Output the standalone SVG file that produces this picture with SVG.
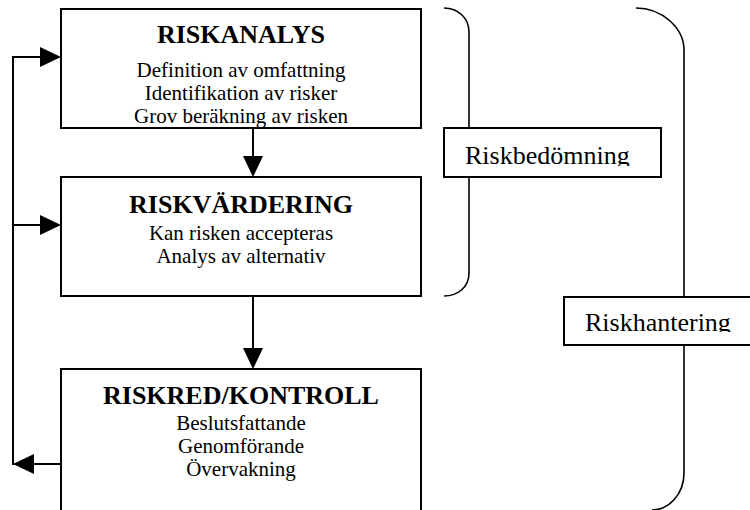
<svg xmlns="http://www.w3.org/2000/svg" width="750" height="510" viewBox="0 0 750 510">
  <style>
    .box { fill: #fff; stroke: #000; stroke-width: 2; }
    .line { fill: none; stroke: #000; stroke-width: 2; }
    .brace { fill: none; stroke: #000; stroke-width: 1.6; }
    .head { fill: #000; stroke: none; }
    text { font-family: "Liberation Serif", "Times New Roman", serif; fill: #000; }
    .title { font-size: 26px; font-weight: bold; text-anchor: middle; }
    .sub { font-size: 21px; text-anchor: middle; }
    .label { font-size: 26px; }
  </style>
  <defs>
    <clipPath id="clip-analys"><rect x="62" y="10" width="358" height="117"/></clipPath>
    <clipPath id="clip-bedomning"><rect x="445" y="129" width="215" height="37"/></clipPath>
    <clipPath id="clip-hantering"><rect x="565" y="298" width="185" height="34"/></clipPath>
  </defs>
  <rect width="750" height="510" fill="#fff"/>

  <!-- braces -->
  <g id="brace-bedomning">
    <path class="brace" d="M444,8 C458,8 469,18 469,32 V273 C469,287 458,296 444,296"/>
  </g>
  <g id="brace-hantering">
    <path class="brace" d="M636,8 C662,8 684,28 684,50 V473 C684,495 668,510 652,510"/>
  </g>

  <!-- connectors -->
  <g id="connectors">
    <path class="line" d="M253,128 V158"/>
    <polygon class="head" points="243,156 263,156 253,177"/>
    <path class="line" d="M253,296 V350"/>
    <polygon class="head" points="243,348 263,348 253,369"/>
    <path class="line" d="M61,464 H13 V57 H42"/>
    <polygon class="head" points="40,47 40,67 61,57"/>
    <path class="line" d="M13,225 H42"/>
    <polygon class="head" points="40,215 40,235 61,225"/>
    <polygon class="head" points="34,454 34,474 13,464"/>
  </g>

  <!-- process steps -->
  <g id="riskanalys">
    <rect class="box" x="61" y="9" width="360" height="119"/>
    <g clip-path="url(#clip-analys)">
      <text class="title" x="241" y="43">RISKANALYS</text>
      <text class="sub" x="241" y="77">Definition av omfattning</text>
      <text class="sub" x="241" y="100">Identifikation av risker</text>
      <text class="sub" x="241" y="123">Grov beräkning av risken</text>
    </g>
  </g>
  <g id="riskvardering">
    <rect class="box" x="61" y="177" width="360" height="119"/>
    <text class="title" x="241" y="213">RISKVÄRDERING</text>
    <text class="sub" x="241" y="240">Kan risken accepteras</text>
    <text class="sub" x="241" y="263">Analys av alternativ</text>
  </g>
  <g id="riskred-kontroll">
    <rect class="box" x="61" y="369" width="360" height="160"/>
    <text class="title" x="241" y="404">RISKRED/KONTROLL</text>
    <text class="sub" x="241" y="430">Beslutsfattande</text>
    <text class="sub" x="241" y="453">Genomförande</text>
    <text class="sub" x="241" y="476">Övervakning</text>
  </g>

  <!-- brace labels -->
  <g id="riskbedomning">
    <rect class="box" x="444" y="128" width="217" height="49"/>
    <g clip-path="url(#clip-bedomning)">
      <text class="label" x="465" y="164">Riskbedömning</text>
    </g>
  </g>
  <g id="riskhantering">
    <rect class="box" x="564" y="297" width="200" height="48"/>
    <g clip-path="url(#clip-hantering)">
      <text class="label" x="585" y="330.5">Riskhantering</text>
    </g>
  </g>
</svg>
